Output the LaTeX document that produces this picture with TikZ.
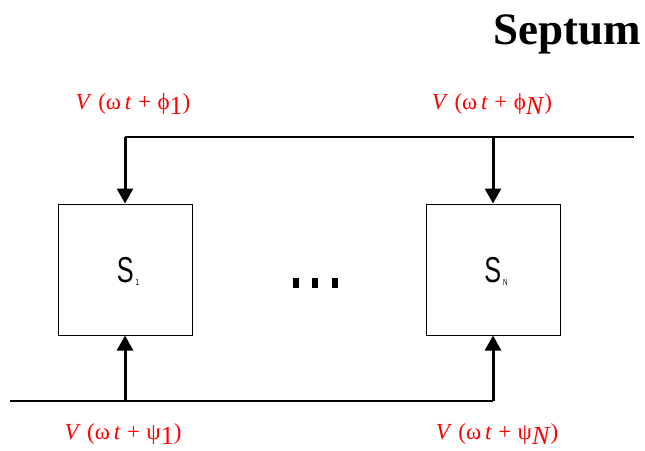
\documentclass[tikz,border=0pt]{standalone}
\usepackage{fontspec}
\setmainfont{Liberation Serif}
\newfontfamily\boxfont{Liberation Sans}
\usetikzlibrary{arrows.meta,positioning}
\tikzset{
  phase/.style={text=red,font=\fontsize{23}{23}\selectfont,inner sep=0pt},
  unit/.style={draw,line width=1pt,minimum width=134pt,minimum height=131pt,inner sep=0pt},
  feed/.style={line width=1.2pt},
  drive/.style={line width=3pt,-{Triangle[length=15pt,width=16pt]}},
  tag/.style={font=\boxfont\fontsize{36}{36}\selectfont,xscale=0.7},
}
\newcommand{\sig}[2]{\textit{V}\;(ω\,\textit{t}\;+\;#1\raisebox{-5pt}{\fontsize{26}{26}\selectfont #2})}
\newcommand{\sub}[1]{\kern3pt\raisebox{-3pt}{\fontsize{9}{9}\selectfont #1}}

\begin{document}
\begin{tikzpicture}[x=1pt,y=-1pt]
        \useasboundingbox (0,0) rectangle (645,450);

        \node[anchor=east,inner sep=0pt,font=\bfseries\fontsize{45}{45}\selectfont] (title) at (641,34) {Septum};

        \node[unit] (S1) at (125,269.5) {};
        \node[unit] (SN) at (493,269.5) {};
        \node[tag] (s1) at (128,271) {S\sub{1}};
        \node[tag] (sn) at (496,271) {S\sub{N}};

        \coordinate (t1) at (125,137);
        \coordinate (tN) at (493,137);
        \coordinate (tend) at (634,137);
        \coordinate (bstart) at (10,401);
        \coordinate (b1) at (125,401);
        \coordinate (bN) at (493,401);

        \draw[feed] (t1) -- (tend);
        \draw[feed] (bstart) -- (bN);
        \draw[drive] (t1) -- (S1.north);
        \draw[drive] (tN) -- (SN.north);
        \draw[drive] (b1) -- (S1.south);
        \draw[drive] (bN) -- (SN.south);

        \fill (293,278) rectangle (299,288);
        \fill (312,278) rectangle (318,288);
        \fill (332,278) rectangle (338,288);

        \node[phase] (p1) at (133,104) {\sig{ϕ}{1}};
        \node[phase] (pN) at (492,104) {\sig{ϕ}{\textit{N}}};
        \node[phase] (q1) at (123,434) {\sig{ψ}{1}};
        \node[phase] (qN) at (497,434) {\sig{ψ}{\textit{N}}};
    \end{tikzpicture}
\end{document}
